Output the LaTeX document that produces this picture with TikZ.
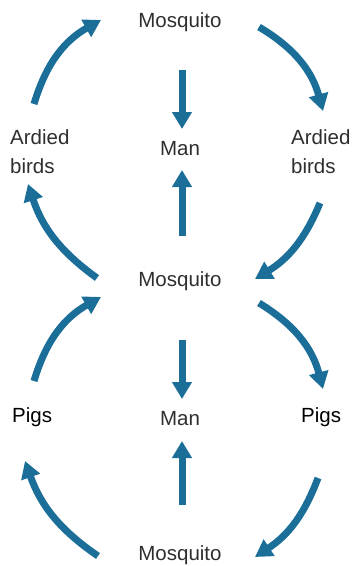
\documentclass[tikz,border=0pt]{standalone}
\usepackage{fontspec}
\setmainfont{Liberation Sans}
\usetikzlibrary{arrows.meta}
\definecolor{arrblue}{HTML}{1A6E98}
\definecolor{txtgray}{HTML}{2E2E2E}
\tikzset{
  lbl/.style={inner sep=0pt, anchor=base, text=txtgray, font=\fontsize{20.5}{29}\selectfont},
  lblw/.style={lbl, anchor=base west, align=left},
  pig/.style={lbl, anchor=base west, text=black},
  arr/.style={draw=arrblue, line width=7pt, -{Triangle[width=19pt,length=17pt,fill=arrblue]}},
}
\begin{document}
\begin{tikzpicture}[x=1pt,y=-1pt]
\useasboundingbox (0,0) rectangle (353,566);
% labels
\node[lbl] (mos1) at (180,27) {Mosquito};
\node[lbl] (mos2) at (180,286) {Mosquito};
\node[lbl] (mos3) at (180,560) {Mosquito};
\node[lbl] (man1) at (180,155) {Man};
\node[lbl] (man2) at (180,425) {Man};
\node[lblw] (birdL) at (10,173) {Ardied\\birds};
\node[lblw] (birdR) at (291,173) {Ardied\\birds};
\node[pig] (pigL) at (12,422) {Pigs};
\node[pig] (pigR) at (301,422) {Pigs};
% arrow end points
\coordinate (a1s) at (34,104);  \coordinate (a1e) at (101,20);
\coordinate (a2s) at (259,27);  \coordinate (a2e) at (323,111);
\coordinate (a3s) at (320,203); \coordinate (a3e) at (255,279);
\coordinate (a4s) at (97,278);  \coordinate (a4e) at (28,184);
\coordinate (a5s) at (182,70);  \coordinate (a5e) at (182,129);
\coordinate (a6s) at (182,236); \coordinate (a6e) at (182,170);
\coordinate (a7s) at (34,381);  \coordinate (a7e) at (101,297);
\coordinate (a8s) at (259,303); \coordinate (a8e) at (323,389);
\coordinate (a9s) at (182,340); \coordinate (a9e) at (182,399);
\coordinate (a10s) at (182,505); \coordinate (a10e) at (182,441);
\coordinate (a11s) at (98,556); \coordinate (a11e) at (25,461);
\coordinate (a12s) at (318,478); \coordinate (a12e) at (255,557);
% arrows
\draw[arr] (a1s) to[bend left=22] (a1e);
\draw[arr] (a2s) to[bend left=22] (a2e);
\draw[arr] (a3s) to[bend left=18] (a3e);
\draw[arr] (a4s) to[bend left=18] (a4e);
\draw[arr] (a5s) -- (a5e);
\draw[arr] (a6s) -- (a6e);
\draw[arr] (a7s) to[bend left=22] (a7e);
\draw[arr] (a8s) to[bend left=22] (a8e);
\draw[arr] (a9s) -- (a9e);
\draw[arr] (a10s) -- (a10e);
\draw[arr] (a11s) to[bend left=18] (a11e);
\draw[arr] (a12s) to[bend left=18] (a12e);
\end{tikzpicture}
\end{document}
